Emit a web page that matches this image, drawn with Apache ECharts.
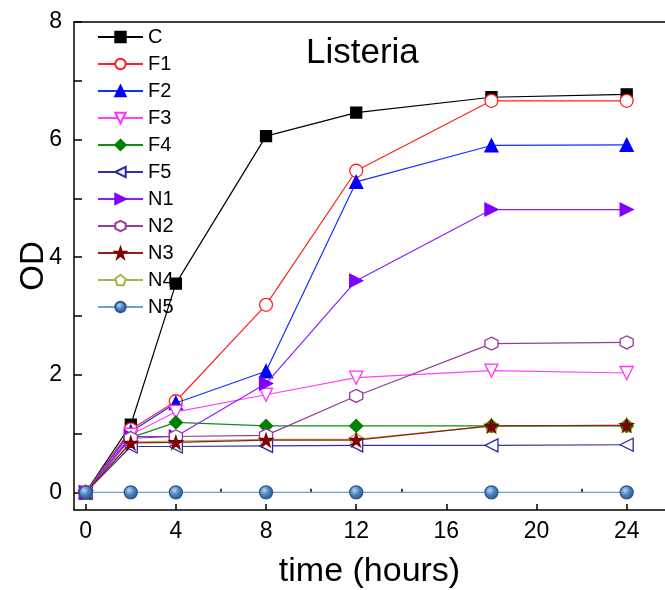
<!DOCTYPE html>
<html><head><meta charset="utf-8">
<script src="https://cdn.jsdelivr.net/npm/echarts@6/dist/echarts.min.js"></script>
<style>html,body{margin:0;padding:0;background:#fff}#c{width:665px;height:590px}</style>
</head><body><div id="c"></div>
<script>
var times = [0, 2, 4, 8, 12, 18, 24];
var seriesNames = ['C','F1','F2','F3','F4','F5','N1','N2','N3','N4','N5'];
var valC  = [0, 1.15, 3.55, 6.06, 6.46, 6.72, 6.77];
var valF1 = [0, 1.07, 1.55, 3.19, 5.47, 6.66, 6.66];
var valF2 = [0, 1.03, 1.52, 2.06, 5.28, 5.90, 5.91];
var valF3 = [0, 0.98, 1.37, 1.66, 1.95, 2.07, 2.03];
var valF4 = [0, 0.93, 1.19, 1.13, 1.13, 1.13, 1.13];
var valF5 = [0, 0.78, 0.78, 0.79, 0.80, 0.80, 0.81];
var valN1 = [0, 0.95, 0.95, 1.85, 3.60, 4.81, 4.81];
var valN2 = [0, 0.92, 0.95, 0.97, 1.64, 2.53, 2.55];
var valN3 = [0, 0.84, 0.85, 0.89, 0.89, 1.13, 1.14];
var valN4 = [0, 0.86, 0.87, 0.90, 0.90, 1.13, 1.14];
var valN5 = [0, 0, 0, 0, 0, 0, 0];
var xMajorTicks = [0, 4, 8, 12, 16, 20, 24];
var xMinorTicks = [2, 6, 10, 14, 18, 22];
var yTicks = [0, 1, 2, 3, 4, 5, 6, 7, 8];
var yLabels = [0, 2, 4, 6, 8];

var allVals = [valC,valF1,valF2,valF3,valF4,valF5,valN1,valN2,valN3,valN4,valN5];
var FONT = 'Arial, "Liberation Sans", sans-serif';

var styles = [
  {sym:'rect', fill:'#000', stroke:'#000', line:'#000', z:3},
  {sym:'circle', fill:'#fff', stroke:'#ff2020', line:'#ff2020', z:4},
  {sym:'triangle', fill:'#0000ff', stroke:'#0000ff', line:'#1030ff', z:5},
  {sym:'path://M0,0 L10,0 L5,9 Z', fill:'#fff', stroke:'#ff30ff', line:'#ff40ff', z:6},
  {sym:'diamond', fill:'#008000', stroke:'#008000', line:'#109010', z:7},
  {sym:'path://M0,5 L9,0 L9,10 Z', fill:'#fff', stroke:'#2a2aa0', line:'#3030a8', z:8},
  {sym:'path://M0,0 L9,5 L0,10 Z', fill:'#8000ff', stroke:'#8000ff', line:'#8a20ff', z:9},
  {sym:'path://M5,0 L9.33,2.5 L9.33,7.5 L5,10 L0.67,7.5 L0.67,2.5 Z', fill:'#fff', stroke:'#9a3a9a', line:'#9a3a9a', z:10},
  {sym:'path://M5,0 L6.2,3.6 L10,3.6 L6.9,5.9 L8.1,9.6 L5,7.3 L1.9,9.6 L3.1,5.9 L0,3.6 L3.8,3.6 Z', fill:'#800000', stroke:'#800000', line:'#902020', z:11},
  {sym:'path://M5,0 L9.76,3.45 L7.94,9.05 L2.06,9.05 L0.24,3.45 Z', fill:'#fff', stroke:'#b0b040', line:'#b0b050', z:2},
  {sym:'circle', fill:{type:'radial',x:0.38,y:0.35,r:0.75,colorStops:[{offset:0,color:'#b8d4f0'},{offset:0.45,color:'#4f82bc'},{offset:1,color:'#1f4f86'}]}, stroke:'#2a5a90', line:'#6e9ed2', z:12}
];

var series = seriesNames.map(function(n, i){
  var st = styles[i];
  return {
    name: n, type: 'line',
    data: times.map(function(t, k){ return [t, allVals[i][k]]; }),
    symbol: st.sym, symbolSize: (i===0?11:13),
    showAllSymbol: true,
    lineStyle: {color: st.line, width: 1.2},
    itemStyle: {color: st.fill, borderColor: st.stroke, borderWidth: 1.3},
    emphasis: {disabled: true},
    animation: false,
    z: st.z
  };
});

var chart = echarts.init(document.getElementById('c'), null, {renderer:'canvas'});
chart.setOption({
  animation: false,
  backgroundColor: '#fff',
  title: {text: 'Listeria', left: 301, top: 31, padding: 5, textStyle: {fontFamily: FONT, fontSize: 35, fontWeight: 'normal', color: '#000'}},
  legend: {
    orient: 'vertical', left: 92, top: 22,
    itemWidth: 45, itemHeight: 13, itemGap: 7,
    textStyle: {fontFamily: FONT, fontSize: 20, color: '#000', lineHeight: 20},
    data: seriesNames
  },
  grid: {left: 74, right: 0, top: 22, bottom: 80, containLabel: false, outerBoundsMode: 'none'},
  xAxis: [
    {type: 'value', min: -0.52, max: 25.7, position: 'bottom',
     name: 'time (hours)', nameLocation: 'middle', nameGap: 45, nameMoveOverlap: false,
     nameTextStyle: {fontFamily: FONT, fontSize: 34, color: '#000'},
     axisLine: {show: true, onZero: false, lineStyle: {color: '#000', width: 1.5}},
     axisTick: {show: true, inside: true, length: 6, customValues: xMajorTicks, lineStyle: {color: '#000', width: 1.5}},
     axisLabel: {show: true, customValues: xMajorTicks, margin: 10, fontFamily: FONT, fontSize: 23, color: '#000'},
     splitLine: {show: false}},
    {type: 'value', min: -0.52, max: 25.7, position: 'bottom',
     axisLine: {show: false},
     axisTick: {show: true, inside: true, length: 3.5, customValues: xMinorTicks, lineStyle: {color: '#000', width: 1.5}},
     axisLabel: {show: false}, splitLine: {show: false}},
    {type: 'value', min: -0.52, max: 25.7, position: 'top',
     axisLine: {show: true, onZero: false, lineStyle: {color: '#000', width: 1.5}},
     axisTick: {show: false}, axisLabel: {show: false}, splitLine: {show: false}}
  ],
  yAxis: [
    {type: 'value', min: -0.3, max: 8, position: 'left',
     name: 'OD', nameLocation: 'middle', nameGap: 24, nameRotate: 90, nameMoveOverlap: false,
     nameTextStyle: {fontFamily: FONT, fontSize: 33, color: '#000'},
     axisLine: {show: true, onZero: false, lineStyle: {color: '#000', width: 1.5}},
     axisTick: {show: true, inside: true, length: 8, customValues: yTicks, lineStyle: {color: '#000', width: 1.5}},
     axisLabel: {show: true, customValues: yLabels, margin: 12, fontFamily: FONT, fontSize: 23, color: '#000'},
     splitLine: {show: false}}
  ],
  series: series
});
</script>
</body></html>
